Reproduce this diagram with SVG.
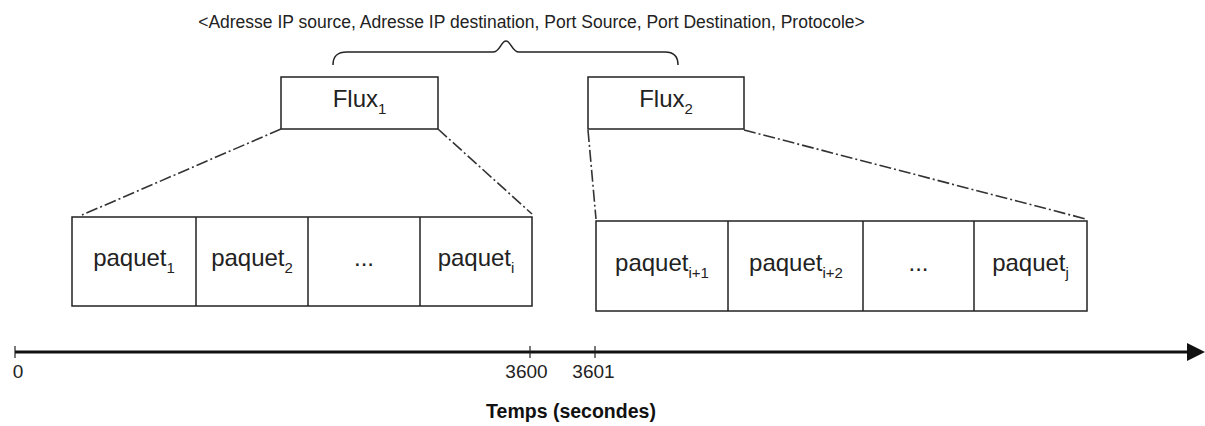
<svg xmlns="http://www.w3.org/2000/svg" width="1205" height="426" viewBox="0 0 1205 426">
<defs>
<style>
text{font-family:"Liberation Sans",Arial,Helvetica,sans-serif;fill:#222}
.top{font-size:17.5px}
.flux{font-size:24px}
.pk{font-size:24px}
.sub{font-size:15px}
.num{font-size:19px}
.ttl{font-size:19.5px;font-weight:bold;fill:#111}
.box{fill:#fff;stroke:#222;stroke-width:1.5}
.dd{fill:none;stroke:#333;stroke-width:1.6;stroke-dasharray:12 3 2 3}
.ax{fill:none;stroke:#111;stroke-width:3}
.tick{stroke:#222;stroke-width:1.2}
.brace{fill:none;stroke:#222;stroke-width:1.5}
</style>
</defs>
<rect width="1205" height="426" fill="#fff"/>

<g id="tuple">
<text class="top" x="531.5" y="28" text-anchor="middle">&lt;Adresse IP source, Adresse IP destination, Port Source, Port Destination, Protocole&gt;</text>
<path class="brace" d="M333,65 C333,56 337,52 347,52 L493,52 C500,52 501,41 506,41 C511,41 512,52 519,52 L665,52 C674,52 678,56 678,65"/>
</g>

<g id="flux1">
<rect class="box" x="281" y="77" width="157" height="52"/>
<text class="flux" x="359.5" y="107" text-anchor="middle">Flux<tspan class="sub" dy="7">1</tspan></text>
</g>
<g id="flux2">
<rect class="box" x="588" y="77" width="156" height="52"/>
<text class="flux" x="666" y="107" text-anchor="middle">Flux<tspan class="sub" dy="7">2</tspan></text>
</g>

<g id="packets1">
<rect class="box" x="72" y="217" width="460" height="89"/>
<line class="box" x1="196" y1="217" x2="196" y2="306"/>
<line class="box" x1="308" y1="217" x2="308" y2="306"/>
<line class="box" x1="420" y1="217" x2="420" y2="306"/>
<text class="pk" x="134" y="266" text-anchor="middle">paquet<tspan class="sub" dy="7">1</tspan></text>
<text class="pk" x="252" y="266" text-anchor="middle">paquet<tspan class="sub" dy="7">2</tspan></text>
<text class="pk" x="364" y="266" text-anchor="middle">...</text>
<text class="pk" x="476" y="266" text-anchor="middle">paquet<tspan class="sub" dy="7">i</tspan></text>
</g>

<g id="packets2">
<rect class="box" x="596" y="221" width="491" height="90"/>
<line class="box" x1="728" y1="221" x2="728" y2="311"/>
<line class="box" x1="863" y1="221" x2="863" y2="311"/>
<line class="box" x1="974" y1="221" x2="974" y2="311"/>
<text class="pk" x="662" y="271" text-anchor="middle">paquet<tspan class="sub" dy="7">i+1</tspan></text>
<text class="pk" x="796" y="271" text-anchor="middle">paquet<tspan class="sub" dy="7">i+2</tspan></text>
<text class="pk" x="918.5" y="271" text-anchor="middle">...</text>
<text class="pk" x="1030.5" y="271" text-anchor="middle">paquet<tspan class="sub" dy="7">j</tspan></text>
</g>

<g id="connectors">
<line class="dd" x1="281" y1="129" x2="82" y2="215"/>
<line class="dd" x1="438" y1="129" x2="532" y2="214"/>
<line class="dd" x1="588" y1="130" x2="596" y2="219"/>
<line class="dd" x1="744" y1="130" x2="1086" y2="219"/>
</g>

<g id="axis">
<line class="ax" x1="15" y1="352" x2="1190" y2="352"/>
<polygon points="1187,343 1205,352 1187,361" fill="#111"/>
<line class="tick" x1="15" y1="346" x2="15" y2="358"/>
<line class="tick" x1="530" y1="346" x2="530" y2="358"/>
<line class="tick" x1="595" y1="346" x2="595" y2="358"/>
<text class="num" x="18" y="378" text-anchor="middle">0</text>
<text class="num" x="526.5" y="378" text-anchor="middle">3600</text>
<text class="num" x="593.5" y="378" text-anchor="middle">3601</text>
<text class="ttl" x="571" y="418" text-anchor="middle">Temps (secondes)</text>
</g>
</svg>
